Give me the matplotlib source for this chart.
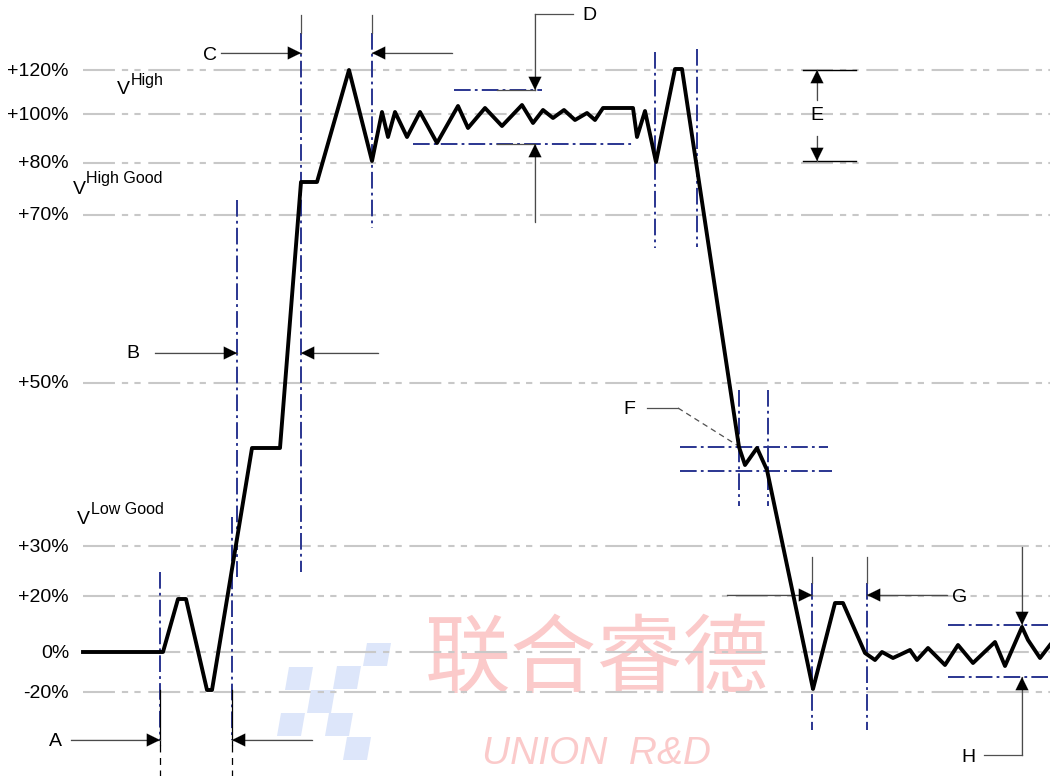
import matplotlib
matplotlib.use('Agg')
import matplotlib.pyplot as plt
from matplotlib.patches import Polygon

plt.rcParams['font.family'] = ['Liberation Sans', 'DejaVu Sans']
plt.rcParams['lines.scale_dashes'] = False

# reference levels (label, pixel row on the canvas)
level_labels = ['+120%', '+100%', '+80%', '+70%', '+50%', '+30%', '+20%', '0%', '-20%']
level_y = [70, 114, 163, 215, 383, 546, 596, 652, 692]

# the waveform (canvas pixels)
wave_x = [83, 163, 178, 186, 207, 212, 252, 280, 301, 317, 349, 372, 382, 388, 395, 407, 420, 437,
          458, 468, 485, 502, 522, 533, 543, 553, 564, 575, 587, 595, 603, 633, 637, 645, 656, 675,
          682, 739, 745, 757, 767, 813, 835, 843, 865, 875, 882, 893, 910, 917, 928, 945, 958, 973,
          995, 1005, 1022, 1028, 1040, 1050]
wave_y = [652, 652, 599, 599, 690, 690, 448, 448, 182, 182, 70, 161, 112, 137, 112, 137, 112, 143,
          106, 128, 108, 126, 105, 123, 110, 118, 110, 120, 113, 120, 108, 108, 137, 111, 162, 69,
          69, 447, 465, 448, 470, 689, 603, 603, 653, 660, 652, 658, 650, 660, 648, 665, 645, 663,
          642, 666, 627, 640, 658, 645]

# blue dash-dot marker lines: (x, y_top, y_bottom) and (y, x_left, x_right)
vmark = [(160, 572, 740), (232, 517, 740), (237, 200, 577), (301, 33, 572), (372, 33, 228),
         (655, 52, 248), (697, 49, 247), (739, 390, 506), (768, 390, 506), (812, 583, 730),
         (867, 583, 730)]
hmark = [(90, 454, 542), (144, 413, 634), (447, 680, 828), (471, 680, 832),
         (625, 948, 1050), (677, 948, 1050)]

# dimension arrows (tail, tip) and their letters
dim_arrows = [((71, 740), (160, 740)), ((312, 740), (232, 740)),
              ((155, 353), (237, 353)), ((378, 353), (301, 353)),
              ((221, 53), (301, 53)), ((452, 53), (372, 53)),
              ((535, 14), (535, 90)), ((535, 222), (535, 144)),
              ((817, 100), (817, 70)), ((817, 136), (817, 161)),
              ((727, 595), (812, 595)), ((947, 595), (867, 595)),
              ((1022, 547), (1022, 625)), ((1022, 755), (1022, 677))]
letters = ['A', 'B', 'C', 'D', 'E', 'F', 'G', 'H']
letter_x = [55, 133, 210, 589, 817, 629, 960, 968]
letter_y = [741, 353, 55, 16, 116, 410, 598, 757]

# V labels: (x of V, y of V, superscript, x of sup, y of sup)
vlabels = [(117, 90, 'High', 131, 81), (73, 190, 'High Good', 86, 179), (77, 520, 'Low Good', 91, 510)]

logo_cells = [(363, 643), (333, 666), (285, 667), (307, 690), (277, 713), (325, 713), (343, 737)]

blue = '#2a3590'
grey = '#c8c8c8'
dimc = '#505050'

fig = plt.figure(figsize=(10.5, 7.76), dpi=100)
ax = fig.add_axes([0, 0, 1, 1])
ax.set_xlim(0, 1050)
ax.set_ylim(776, 0)
ax.axis('off')

# watermark
for cx, cy in logo_cells:
    ax.add_patch(Polygon([(cx + 4, cy), (cx + 28, cy), (cx + 24, cy + 23), (cx, cy + 23)],
                         closed=True, facecolor='#dde6fa', edgecolor='none', zorder=0))
ax.text(597, 662, '联合睿德', fontsize=62, color='#fbcaca', ha='center', va='center',
        family=['Noto Sans CJK SC', 'DejaVu Sans'], zorder=0)
ax.text(597, 754, 'UNION  R&D', fontsize=28, color='#fbcaca', ha='center', va='center',
        style='italic', zorder=0)

# reference levels
for lab, y in zip(level_labels, level_y):
    ax.plot([83, 1050], [y, y], color=grey, lw=1.5, dashes=(23, 5, 4.5, 4.5, 4.5, 5.5), zorder=1)
    ax.text(69, y + 1, lab, fontsize=14, ha='right', va='center')

for vx, vy, sup, sx, sy in vlabels:
    ax.text(vx, vy, 'V', fontsize=14, va='center')
    ax.text(sx, sy, sup, fontsize=11.5, va='center')

# marker lines
for x, y0, y1 in vmark:
    ax.plot([x, x], [y0, y1], color=blue, lw=1.4, dashes=(12, 3, 2, 3), zorder=2)
for y, x0, x1 in hmark:
    ax.plot([x0, x1], [y, y], color=blue, lw=1.4, dashes=(12, 3, 2, 3), zorder=2)

# thin black extension lines
for x in [301, 372]:
    ax.plot([x, x], [15, 33], color=dimc, lw=0.9, zorder=2)
for x in [812, 867]:
    ax.plot([x, x], [557, 583], color=dimc, lw=0.9, zorder=2)
for x in [160, 232]:
    ax.plot([x, x], [690, 745], color='black', lw=0.9, zorder=2)
    ax.plot([x, x], [745, 776], color='black', lw=0.9, dashes=(5, 4), zorder=2)
for y in [90, 144]:
    ax.plot([497, 535], [y, y], color=dimc, lw=0.9, zorder=2)
for y in [70, 161]:
    ax.plot([803, 856], [y, y], color='black', lw=1.0, zorder=2)
ax.plot([573, 535], [14, 14], color=dimc, lw=0.9)
ax.plot([984, 1022], [755, 755], color=dimc, lw=0.9)
ax.plot([647, 678], [408, 408], color=dimc, lw=0.9)
ax.plot([678, 740], [408, 447], color=dimc, lw=0.9, dashes=(4, 3))

# dimension arrows
for tail, tip in dim_arrows:
    ax.plot([tail[0], tip[0]], [tail[1], tip[1]], color=dimc, lw=0.9, zorder=3)
    ax.annotate('', xy=tip, xytext=tail,
                arrowprops=dict(arrowstyle='-|>,head_length=0.67,head_width=0.33', color='black',
                                lw=0.1, shrinkA=0, shrinkB=0, mutation_scale=14), zorder=3)
for t, x, y in zip(letters, letter_x, letter_y):
    ax.text(x, y, t, fontsize=14, ha='center', va='center')

# waveform
ax.plot(wave_x, wave_y, color='black', lw=2.8, solid_joinstyle='round', zorder=4)

fig.savefig('out.png', dpi=100)
